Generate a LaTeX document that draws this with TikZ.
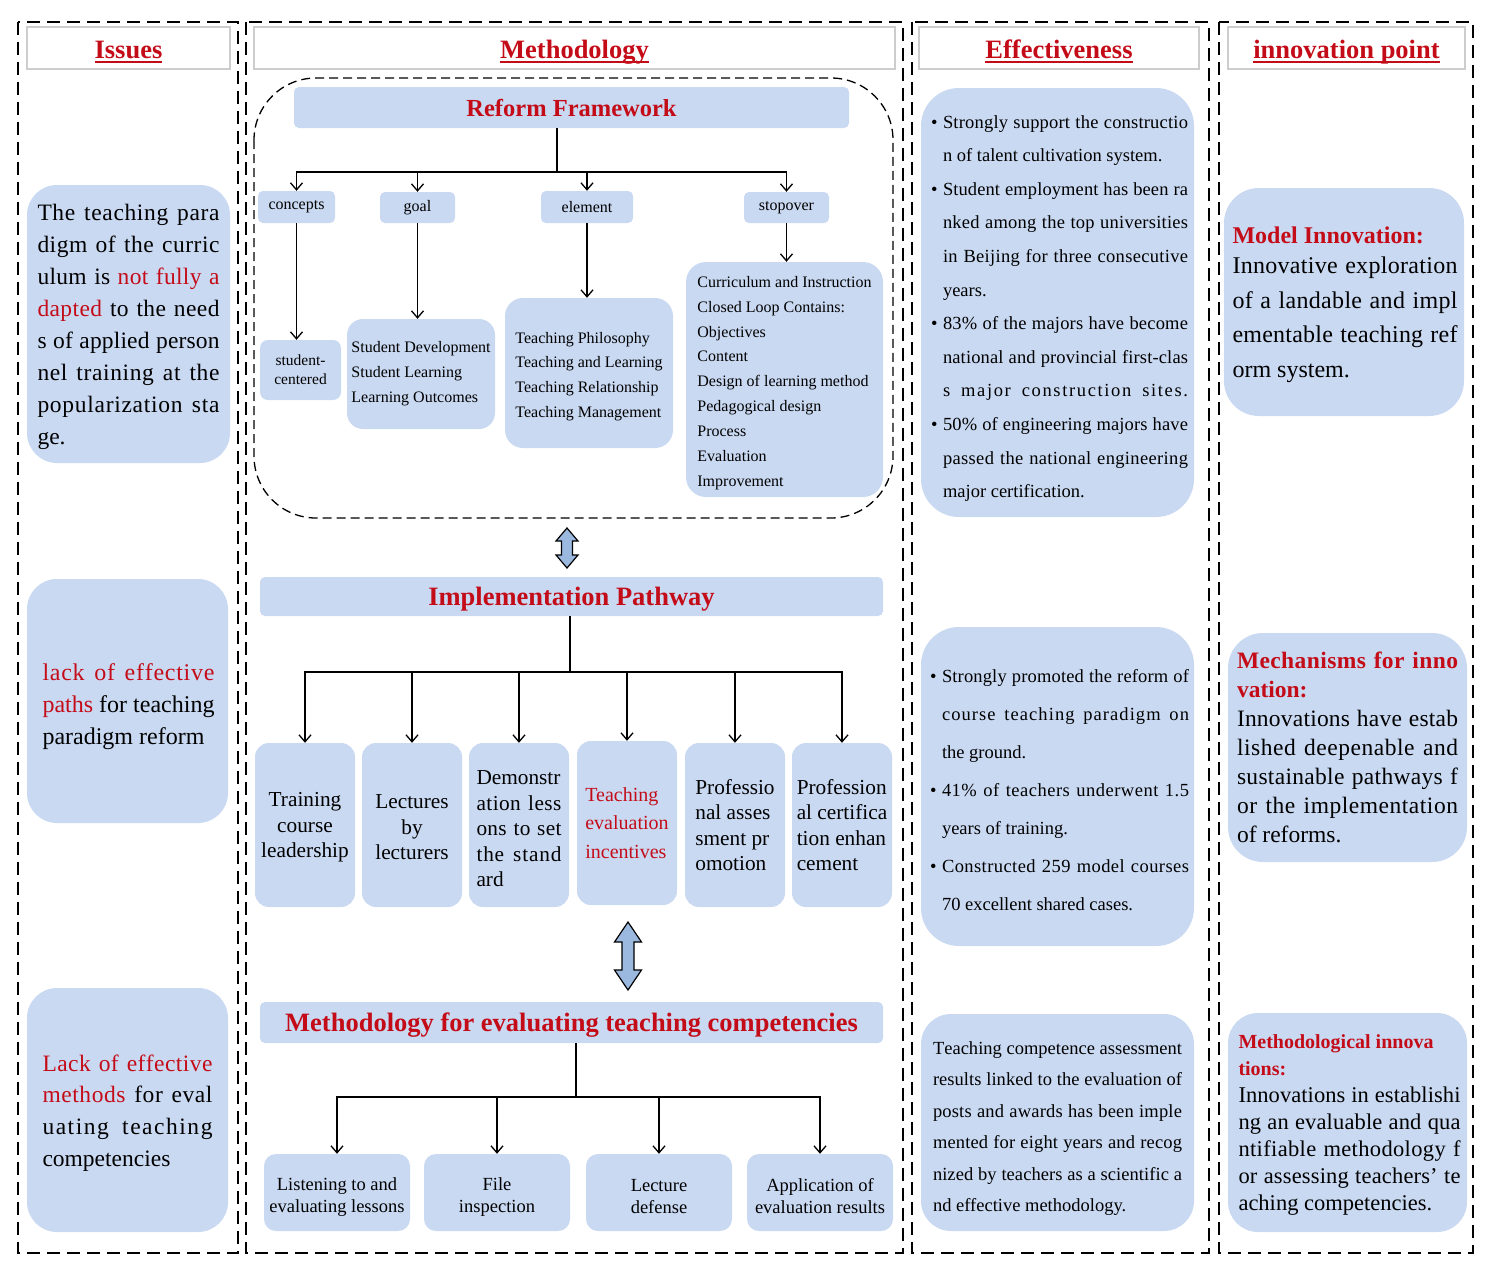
\documentclass[tikz,border=0pt]{standalone}
\usepackage{fontspec}
\setmainfont{Liberation Serif}
\usetikzlibrary{arrows.meta}
\definecolor{pblue}{RGB}{201,217,242}
\definecolor{tred}{RGB}{196,12,24}
\definecolor{hgray}{RGB}{205,205,205}
\definecolor{dafill}{RGB}{155,185,222}
\XeTeXinterchartoks 0 0 = {\hskip 0pt plus 0.6pt\relax}
\newcommand\fs[2]{\fontsize{#1}{#2}\selectfont}
\newcommand\rd[1]{\textcolor{tred}{#1}}
\def\jw{100pt}
\newcommand\jl[1]{\makebox[\jw][s]{\XeTeXinterchartokenstate=1\relax #1}}
\newcommand\bl{\makebox[12pt][l]{\textbullet}}
\newcommand\nb{\makebox[12pt][l]{}}
\newcommand\up[1]{\rule{0pt}{#1}}
\newcommand\hdr[1]{\setbox0\hbox{#1}\rlap{\rule[-4.5pt]{\wd0}{1.6pt}}\box0}
\begin{document}
\begin{tikzpicture}[x=1pt,y=-1pt,
  colb/.style={line width=1.8pt, dash pattern=on 13pt off 7pt},
  cont/.style={line width=1.3pt, dash pattern=on 9pt off 5pt, rounded corners=62pt},
  hbox/.style={draw=hgray, line width=1.3pt, fill=white, inner sep=0pt, text=tred, font=\fs{26.5}{30}\bfseries, text height=22pt, text depth=2pt},
  bar/.style={fill=pblue, rounded corners=5pt, inner sep=0pt, text=tred, font=\fs{26.5}{30}\bfseries, text height=18pt, text depth=0pt},
  panel/.style={fill=pblue, rounded corners=#1, inner sep=0pt},
  panel/.default=25pt,
  txt/.style={inner sep=0pt, align=left},
  lbl/.style={panel=5pt, font=\fs{16}{19}},
  sixb/.style={panel=14pt, minimum width=100pt, minimum height=164pt, font={\fs{21.3}{25.5}\def\jw{85pt}}},
  fourb/.style={panel=12pt, minimum width=146pt, minimum height=77pt, align=center, font=\fs{18.5}{22}},
  ln/.style={line width=1.3pt},
  arr/.style={line width=1.3pt, -{Straight Barb[length=7pt,width=12pt]}},
  dbl/.style={draw, line width=1.2pt, fill=dafill, line join=miter}]

\fill[white] (0,0) rectangle (1488,1275);
\useasboundingbox (0,0) rectangle (1488,1275);

% columns
\draw[colb] (18,22) rectangle (238,1253);
\draw[colb] (246,22) rectangle (903,1253);
\draw[colb] (912,22) rectangle (1209,1253);
\draw[colb] (1219,22) rectangle (1473,1253);

% headers
\node[hbox, minimum width=203pt, minimum height=42pt] (h1) at (128.5,48) {\hdr{Issues}};
\node[hbox, minimum width=641pt, minimum height=42pt] (h2) at (574.5,48) {\hdr{Methodology}};
\node[hbox, minimum width=280pt, minimum height=42pt] (h3) at (1059,48) {\hdr{Effectiveness}};
\node[hbox, minimum width=237pt, minimum height=42pt] (h4) at (1346.5,48) {\hdr{innovation point}};

% column 1: issues
\node[panel=30pt, minimum width=203pt, minimum height=278pt] (i1) at (128.5,324) {};
\node[txt, yshift=-3pt, font={\fs{23.5}{31.9}\def\jw{182pt}}] (i1t) at (i1.center)
 {\jl{The teaching para}\\\jl{digm of the curric}\\\jl{ulum is \rd{not fully a}}\\\jl{\rd{dapted} to the need}\\\jl{s of applied person}\\\jl{nel training at the}\\\jl{popularization sta}\\ge.};
\node[panel=30pt, minimum width=201pt, minimum height=244pt] (i2) at (127.5,701) {};
\node[txt, yshift=-6pt, font={\fs{24}{32}\def\jw{172pt}}] (i2t) at ([xshift=1pt]i2.center)
 {\jl{\rd{lack of effective}}\\\jl{\rd{paths} for teaching}\\paradigm reform};
\node[panel=30pt, minimum width=201pt, minimum height=244pt] (i3) at (127.5,1110) {};
\node[txt, yshift=-3pt, font={\fs{23.5}{31.7}\def\jw{170pt}}] (i3t) at (i3.center)
 {\jl{\rd{Lack of effective}}\\\jl{\rd{methods} for eval}\\\jl{uating teaching}\\competencies};

% column 2: reform framework
\draw[cont] (254,78) rectangle (893,518);
\node[bar, minimum width=555pt, minimum height=41pt, font=\fs{24.5}{28}\bfseries] (rf) at (571.5,107.5) {Reform Framework};
\node[lbl, minimum width=77pt, minimum height=32pt] (cp) at (296.5,207) {concepts};
\node[lbl, minimum width=75pt, minimum height=31pt] (go) at (417.5,207.5) {goal};
\node[lbl, minimum width=92pt, minimum height=32pt] (em) at (587,207) {element};
\node[lbl, minimum width=85pt, minimum height=31pt] (so) at (786.5,207.5) {stopover};
\node[panel=8pt, minimum width=81pt, minimum height=60pt, align=center, font=\fs{15.5}{19}] (sc) at (300.5,370) {student-\\centered};
\node[panel=16pt, minimum width=148pt, minimum height=110pt, align=left, font=\fs{16}{25}] (gl) at (421,374)
 {Student Development\\Student Learning\\Learning Outcomes};
\node[panel=18pt, minimum width=168pt, minimum height=150pt, align=left, font=\fs{16}{24.7}] (el) at (589,373)
 {\up{18pt}Teaching Philosophy\\Teaching and Learning\\Teaching Relationship\\Teaching Management};
\node[panel=20pt, minimum width=197pt, minimum height=235pt, align=left, font=\fs{16}{24.9}] (st) at (784.5,379.5)
 {\up{18pt}Curriculum and Instruction\\Closed Loop Contains:\\Objectives\\Content\\Design of learning method\\Pedagogical design\\Process\\Evaluation\\Improvement};
\coordinate (j1) at (557,172);
\draw[ln] (rf.south -| j1) -- (j1);
\foreach \n in {cp,go,em,so} \draw[arr] (j1) -| (\n.north);
\draw[arr] (cp.south) -- (cp.south |- sc.north);
\draw[arr] (go.south) -- (go.south |- gl.north);
\draw[arr] (em.south) -- (em.south |- el.north);
\draw[arr] (so.south) -- (so.south |- st.north);

% double arrow 1
\draw[dbl] (567,528) -- (578,541) -- (572.5,541) -- (572.5,555) -- (578,555) -- (567,568) -- (556,555) -- (561.5,555) -- (561.5,541) -- (556,541) -- cycle;

% implementation pathway
\node[bar, minimum width=623pt, minimum height=39pt] (ip) at (571.5,596.5) {Implementation Pathway};
\node[sixb, align=center] (p1) at (305,825) {\up{19pt}Training\\course\\leadership};
\node[sixb, align=center] (p2) at (412,825) {\up{19pt}Lectures\\by\\lecturers};
\node[sixb, align=left] (p3) at (519,825) {\up{22pt}Demonstr\\\jl{ation less}\\\jl{ons to set}\\\jl{the stand}\\ard};
\node[sixb, align=left, text=tred, font=\fs{20}{28.5}] (p4) at (627,823) {Teaching\\evaluation\\incentives};
\node[sixb, align=left] (p5) at (735,825) {Professio\\nal asses\\sment pr\\omotion};
\node[sixb, align=left] (p6) at (842,825) {Profession\\al certifica\\tion enhan\\cement};
\coordinate (j2) at (570,672);
\draw[ln] (ip.south -| j2) -- (j2);
\foreach \n in {p1,p2,p3,p4,p5,p6} \draw[arr] (j2) -| (\n.north);

% double arrow 2
\draw[dbl] (628,922) -- (641.5,942) -- (634,942) -- (634,970) -- (641.5,970) -- (628,990) -- (614.5,970) -- (622,970) -- (622,942) -- (614.5,942) -- cycle;

% evaluation methodology
\node[bar, minimum width=623pt, minimum height=41pt] (ev) at (571.5,1022.5) {Methodology for evaluating teaching competencies};
\node[fourb] (q1) at (337,1192.5) {\up{21pt}Listening to and\\evaluating lessons};
\node[fourb] (q2) at (497,1192.5) {\up{21pt}File\\inspection};
\node[fourb] (q3) at (659,1192.5) {\up{21pt}Lecture\\defense};
\node[fourb] (q4) at (820,1192.5) {\up{21pt}Application of\\evaluation results};
\coordinate (j3) at (576,1097);
\draw[ln] (ev.south -| j3) -- (j3);
\foreach \n in {q1,q2,q3,q4} \draw[arr] (j3) -| (\n.north);

% column 3: effectiveness
\node[panel=38pt, minimum width=273pt, minimum height=429pt] (c1) at (1057.5,302.5) {};
\node[txt, yshift=-6pt, font={\fs{18.5}{33.6}\def\jw{245pt}}] (c1t) at ([xshift=2pt]c1.center)
 {\bl\jl{Strongly support the constructio}\\
  \nb n of talent cultivation system.\\
  \bl\jl{Student employment has been ra}\\
  \nb\jl{nked among the top universities}\\
  \nb\jl{in Beijing for three consecutive}\\
  \nb years.\\
  \bl\jl{83\% of the majors have become}\\
  \nb\jl{national and provincial first-clas}\\
  \nb\jl{s major construction sites.}\\
  \bl\jl{50\% of engineering majors have}\\
  \nb\jl{passed the national engineering}\\
  \nb major certification.};
\node[panel=38pt, minimum width=273pt, minimum height=319pt] (c2) at (1057.5,786.5) {};
\node[txt, yshift=-4pt, font={\fs{18.5}{38}\def\jw{247pt}}] (c2t) at ([xshift=2pt]c2.center)
 {\bl\jl{Strongly promoted the reform of}\\
  \nb\jl{course teaching paradigm on}\\
  \nb the ground.\\
  \bl\jl{41\% of teachers underwent 1.5}\\
  \nb years of training.\\
  \bl\jl{Constructed 259 model courses}\\
  \nb 70 excellent shared cases.};
\node[panel=30pt, minimum width=273pt, minimum height=217pt] (c3) at (1057.5,1122.5) {};
\node[txt, yshift=-6pt, font={\fs{18.5}{31.4}\def\jw{249pt}}] (c3t) at (c3.center)
 {\jl{Teaching competence assessment}\\\jl{results linked to the evaluation of}\\\jl{posts and awards has been imple}\\\jl{mented for eight years and recog}\\\jl{nized by teachers as a scientific a}\\nd effective methodology.};

% column 4: innovation point
\node[panel=35pt, minimum width=240pt, minimum height=228pt] (n1) at (1344,302) {};
\node[txt, yshift=-3pt, font={\fs{24}{34.5}\def\jw{225pt}}] (n1t) at ([xshift=1pt]n1.center)
 {{\bfseries\color{tred}Model Innovation:}\\[-4.5pt]\jl{Innovative exploration}\\\jl{of a landable and impl}\\\jl{ementable teaching ref}\\orm system.};
\node[panel=35pt, minimum width=239pt, minimum height=229pt] (n2) at (1347.5,747.5) {};
\node[txt, font={\fs{23.5}{29}\def\jw{221pt}}] (n2t) at (n2.center)
 {{\bfseries\color{tred}\jl{Mechanisms for inno}}\\{\bfseries\color{tred}vation:}\\\jl{Innovations have estab}\\\jl{lished deepenable and}\\\jl{sustainable pathways f}\\\jl{or the implementation}\\of reforms.};
\node[panel=30pt, minimum width=239pt, minimum height=219pt] (n3) at (1347.5,1122.5) {};
\node[txt, yshift=-2pt, font={\fs{22.5}{27}\def\jw{222pt}}] (n3t) at ([xshift=2pt]n3.center)
 {{\fs{20}{27}\bfseries\color{tred}Methodological innova}\\{\fs{20}{27}\bfseries\color{tred}tions:}\\\jl{Innovations in establishi}\\\jl{ng an evaluable and qua}\\\jl{ntifiable methodology f}\\\jl{or assessing teachers' te}\\aching competencies.};
\end{tikzpicture}
\end{document}
